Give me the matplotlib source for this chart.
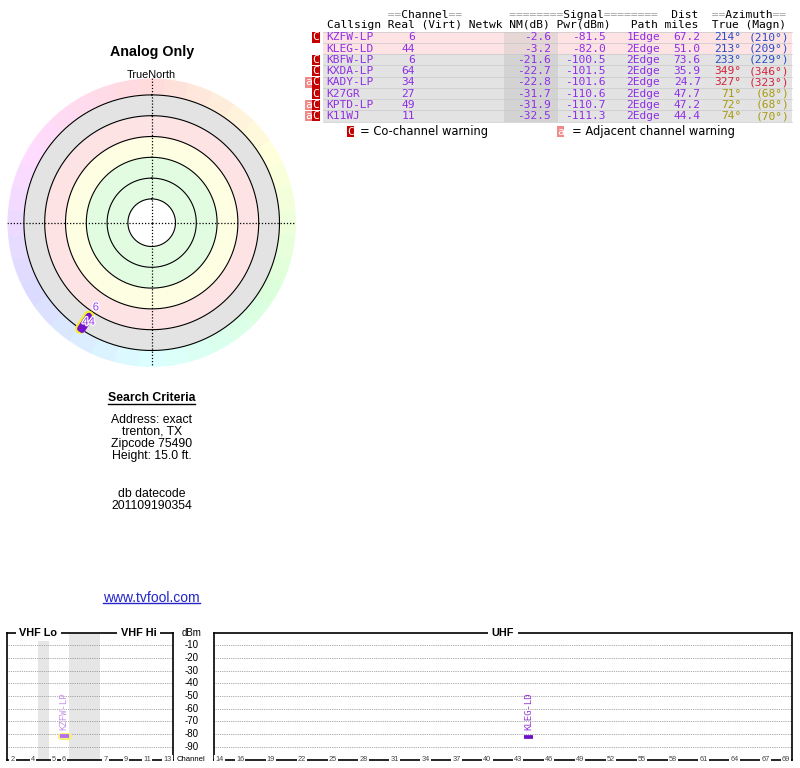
import colorsys
import numpy as np
import matplotlib
matplotlib.use('Agg')
import matplotlib.pyplot as plt
import matplotlib.patheffects as pe
from matplotlib.patches import Rectangle
from matplotlib.transforms import blended_transform_factory

# ---------------------------------------------------------------
# station data (tvfool report, Analog Only)
# ---------------------------------------------------------------
callsigns = ['KZFW-LP', 'KLEG-LD', 'KBFW-LP', 'KXDA-LP', 'KADY-LP', 'K27GR', 'KPTD-LP', 'K11WJ']
real_ch = [6, 44, 6, 64, 34, 27, 49, 11]
nm_db = [-2.6, -3.2, -21.6, -22.7, -22.8, -31.7, -31.9, -32.5]
pwr_dbm = [-81.5, -82.0, -100.5, -101.5, -101.6, -110.6, -110.7, -111.3]
path = ['1Edge', '2Edge', '2Edge', '2Edge', '2Edge', '2Edge', '2Edge', '2Edge']
dist_mi = [67.2, 51.0, 73.6, 35.9, 24.7, 47.7, 47.2, 44.4]
az_true = [214, 213, 233, 349, 327, 71, 72, 74]
az_magn = [210, 209, 229, 346, 323, 68, 68, 70]
co_channel = [True, False, True, True, True, True, True, True]
adj_channel = [False, False, False, False, True, False, True, True]

ring_nm = [40, 30, 20, 10, 0, -10]
band_nm = [40, 20, 10, 0, -10]
vhf_slots = ['2', '3', '4', '', '5', '6', '', '', '', '7', '8', '9', '10', '11', '12', '13']
vhf_tick_labels = ['2', '4', '5', '6', '7', '9', '11', '13']
uhf_tick_labels = [14, 16, 19, 22, 25, 28, 31, 34, 37, 40, 43, 46, 49, 52, 55, 58, 61, 64, 67, 69]
dbm_ticks = [-10, -20, -30, -40, -50, -60, -70, -80, -90]
criteria_lines = ['Address: exact', 'trenton, TX', 'Zipcode 75490', 'Height: 15.0 ft.']
datecode_lines = ['db datecode', '201109190354']

MONO = 'DejaVu Sans Mono'
SANS = 'Liberation Sans'
PURPLE = '#8f2fe6'

W, H = 800, 768
fig = plt.figure(figsize=(8, 7.68), dpi=100)
bg = fig.add_axes([0, 0, 1, 1])
bg.set_xlim(0, W)
bg.set_ylim(H, 0)
bg.axis('off')


def px_rect(x0, y0, x1, y1):
    return [x0 / W, 1 - y1 / H, (x1 - x0) / W, (y1 - y0) / H]


def az_color(a):
    if 180 <= a < 300:
        return '#2a4fc4'
    if a >= 300 or a < 30:
        return '#d0243c'
    return '#a89a10'


is_analog = [not c.endswith('-LD') for c in callsigns]

# ---------------------------------------------------------------
# station table (monospace columns)
# ---------------------------------------------------------------
tx0, cw = 326.7, 6.8
row_top, row_h = 31.7, 11.25
tab_x0, tab_x1 = 323.3, 792.3
nm_x0, nm_x1 = 504.3, 557.7


def col_x(i):
    return tx0 + i * cw


hdr1 = '         ==Channel==       ========Signal========  Dist  ==Azimuth=='
hdr2 = 'Callsign Real (Virt) Netwk NM(dB) Pwr(dBm)   Path miles  True (Magn)'
mono = dict(family=MONO, fontsize=8.1)
bg.text(col_x(0), 15, ''.join(c if c == '=' else ' ' for c in hdr1), color='#a0a0a0',
        ha='left', va='center', **mono)
bg.text(col_x(0), 15, ''.join(' ' if c == '=' else c for c in hdr1), color='black',
        ha='left', va='center', **mono)
bg.text(col_x(0), 25, hdr2, color='black', ha='left', va='center', **mono)

n = len(callsigns)
for i in range(n):
    top = row_top + i * row_h
    yc = top + row_h / 2
    strong = nm_db[i] > -10
    bg.add_patch(Rectangle((tab_x0, top), tab_x1 - tab_x0, row_h,
                           fc='#fde3e3' if strong else '#e3e3e3', ec='none'))
    bg.add_patch(Rectangle((nm_x0, top), nm_x1 - nm_x0, row_h,
                           fc='#e6d6d6' if strong else '#d3d3d3', ec='none'))
    if co_channel[i]:
        bg.add_patch(Rectangle((311.7, top + 0.4), 8.3, row_h - 0.8, fc='#c40000', ec='none'))
        bg.text(315.8, yc, 'C', color='white', ha='center', va='center', **mono)
    if adj_channel[i]:
        bg.add_patch(Rectangle((305.0, top + 0.4), 6.7, row_h - 0.8, fc='#f08a8a', ec='none'))
        bg.text(308.4, yc, 'a', color='white', ha='center', va='center', **mono)

    bg.text(col_x(0), yc, callsigns[i], color=PURPLE, ha='left', va='center', **mono)
    bg.text(col_x(13), yc, str(real_ch[i]), color=PURPLE, ha='right', va='center', **mono)
    bg.text(col_x(33), yc, f'{nm_db[i]:.1f}', color=PURPLE, ha='right', va='center', **mono)
    bg.text(col_x(41), yc, f'{pwr_dbm[i]:.1f}', color=PURPLE, ha='right', va='center', **mono)
    bg.text(col_x(49), yc, path[i], color=PURPLE, ha='right', va='center', **mono)
    bg.text(col_x(55), yc, f'{dist_mi[i]:.1f}', color=PURPLE, ha='right', va='center', **mono)
    acol = az_color(az_true[i])
    bg.text(col_x(61), yc, f'{az_true[i]}°', color=acol, ha='right', va='center', **mono)
    bg.text(col_x(68), yc, f'({az_magn[i]}°)', color=acol, ha='right', va='center', **mono)

for i in range(n + 1):
    bg.plot([tab_x0, tab_x1], [row_top + i * row_h] * 2, color='#c8c8c8', lw=0.5)

# legend under the table
ly = row_top + n * row_h + 10
bg.add_patch(Rectangle((346.7, ly - 5.6), 7.6, 11.2, fc='#c40000', ec='none'))
bg.text(350.5, ly, 'C', color='white', ha='center', va='center', **mono)
bg.text(360, ly, '= Co-channel warning', ha='left', va='center', fontsize=8.3, color='black')
bg.add_patch(Rectangle((557.3, ly - 5.6), 7.0, 11.2, fc='#f08a8a', ec='none'))
bg.text(560.8, ly, 'a', color='white', ha='center', va='center', **mono)
bg.text(571.7, ly, '= Adjacent channel warning', ha='left', va='center', fontsize=8.3, color='black')

# ---------------------------------------------------------------
# radar plot
# ---------------------------------------------------------------
cx, cy, R = 151.7, 222.7, 144.3


def nm_to_r(v):
    return 107.0 - 2.08 * np.asarray(v, dtype=float)


pax = fig.add_axes(px_rect(cx - R, cy - R, cx + R, cy + R), projection='polar')
pax.set_theta_zero_location('N')
pax.set_theta_direction(-1)
pax.set_rlim(0, R)
pax.axis('off')

theta = np.linspace(0, 2 * np.pi, 721)
ring_r = nm_to_r(ring_nm)
band_r = nm_to_r(band_nm)
band_colors = ['#e2fce2', '#fefee2', '#fde3e3', '#e3e3e3']
for k, col in enumerate(band_colors):
    pax.fill_between(theta, band_r[k], band_r[k + 1], color=col, lw=0)
# hue wheel by azimuth
for a in range(0, 360, 10):
    col = colorsys.hsv_to_rgb(a / 360.0, 0.14, 1.0)
    pax.bar(np.deg2rad(a), R - ring_r[-1], width=np.deg2rad(10), bottom=ring_r[-1],
            color=col, ec=col, lw=0.3)
for r in ring_r:
    pax.plot(theta, np.full_like(theta, r), color='black', lw=0.8)
for a in (0, 90, 180, 270):
    pax.plot([np.deg2rad(a)] * 2, [0, R], color='black', lw=0.9, ls=(0, (1, 1.5)))

label_az = []
for i in range(n):
    if nm_db[i] <= ring_nm[-1]:
        continue
    th = np.deg2rad(az_true[i])
    r_tip = nm_to_r(nm_db[i])
    if is_analog[i]:
        pax.plot([th, th], [r_tip, ring_r[-1]], color='#f4ee2a', lw=7.5, solid_capstyle='round')
    pax.plot([th, th], [r_tip, ring_r[-1]], color='#7412d0', lw=4.5, solid_capstyle='round')
    k = sum(abs(a - az_true[i]) < 5 for a in label_az)
    label_az.append(az_true[i])
    pax.text(np.deg2rad(az_true[i] - 0.6), r_tip - 11 + 15 * k, str(real_ch[i]),
             color='#9a44f2', fontsize=8.2, family=SANS, ha='center', va='center',
             path_effects=[pe.withStroke(linewidth=1.8, foreground='white')])

bg.text(163, 89.5, 'N', color='#dd0000', fontsize=8, family=SANS, ha='center', va='center',
        bbox=dict(boxstyle='square,pad=0.12', fc='white', ec='none', alpha=0.85))
bg.text(cx, 74.5, 'TrueNorth', fontsize=7.8, family=SANS, ha='center', va='center')
bg.text(cx, 51.7, 'Analog Only', fontsize=10.3, family=SANS, weight='bold',
        ha='center', va='center')

# ---------------------------------------------------------------
# search criteria text
# ---------------------------------------------------------------
t_sc = bg.text(cx, 398.3, 'Search Criteria', fontsize=8.8, family=SANS, weight='bold',
               ha='center', va='center')
for j, line in enumerate(criteria_lines):
    bg.text(cx, 420 + 12 * j, line, fontsize=8.8, family=SANS, ha='center', va='center')
for j, line in enumerate(datecode_lines):
    bg.text(cx, 494 + 12 * j, line, fontsize=8.8, family=SANS, ha='center', va='center')
t_url = bg.text(cx, 598.3, 'www.tvfool.com', fontsize=10, family=SANS, color='#2424c8',
                ha='center', va='center')

# ---------------------------------------------------------------
# spectrum panels
# ---------------------------------------------------------------
s_top, s_bot = 632.7, 759.5
vax = fig.add_axes(px_rect(7.3, s_top, 172.7, s_bot))
uax = fig.add_axes(px_rect(214.3, s_top, 792.3, s_bot))
vax.set_xlim(-0.5, len(vhf_slots) - 0.5)
uax.set_xlim(13.5, 69.6)
for ax in (vax, uax):
    ax.set_ylim(-100, 0)
    ax.set_yticks(dbm_ticks)
    ax.set_xticks([])
    ax.tick_params(left=False, labelleft=False)
    ax.yaxis.grid(True, ls=(0, (1, 1.2)), color='#8c8c8c', lw=0.6)
    for sp in ax.spines.values():
        sp.set_linewidth(1.2)
        sp.set_color('black')

for s, lab in enumerate(vhf_slots):
    if lab == '':
        vax.axvspan(s - 0.5, s + 0.5, color='#e6e6e6', lw=0, zorder=0.5)

tick_kw = dict(fontsize=5.3, family=SANS, color='#444444', ha='center', va='center',
               clip_on=False, zorder=5,
               bbox=dict(boxstyle='square,pad=0.15', fc='white', ec='none'))
for lab in vhf_tick_labels:
    vax.text(vhf_slots.index(lab), -100, lab, **tick_kw)
for ch in uhf_tick_labels:
    uax.text(ch, -100, str(ch), **tick_kw)

band_kw = dict(fontsize=7.8, family=SANS, weight='bold', ha='center', va='center', clip_on=False,
               zorder=5, bbox=dict(boxstyle='square,pad=0.35', fc='white', ec='none'))
vax.text(2.5, 0, 'VHF Lo', **band_kw)
vax.text(12.2, 0, 'VHF Hi', **band_kw)
uax.text(41.5, 0, 'UHF', **band_kw)

side = blended_transform_factory(vax.transAxes, vax.transData)
side_x = (191.7 - 7.3) / (172.7 - 7.3)
vax.text(side_x, 0, 'dBm', transform=side, fontsize=7, family=SANS, ha='center', va='center',
         clip_on=False)
for v in dbm_ticks:
    vax.text(side_x, v, str(v), transform=side, fontsize=7, family=SANS, ha='center',
             va='center', clip_on=False)
vax.text(side_x - 0.007, -100, 'Channel', transform=side, fontsize=5.6, family=SANS,
         ha='center', va='center', clip_on=False)

for i in range(n):
    if pwr_dbm[i] < -100:
        continue
    if real_ch[i] <= 13:
        ax, x = vax, vhf_slots.index(str(real_ch[i]))
    else:
        ax, x = uax, real_ch[i]
    if is_analog[i]:
        ax.plot([x - 0.33, x + 0.33], [pwr_dbm[i]] * 2, color='#f4f07a', lw=5.2,
                solid_capstyle='round', zorder=3)
        bar_c, lab_c = '#b46cf0', '#c690ea'
    else:
        bar_c, lab_c = '#7010c8', '#9434d8'
    ax.plot([x - 0.45, x + 0.45], [pwr_dbm[i]] * 2, color=bar_c, lw=2.7,
            solid_capstyle='butt', zorder=4)
    ax.text(x, pwr_dbm[i] + 5, callsigns[i], rotation=90, ha='center', va='bottom',
            family=MONO, fontsize=6.5, color=lab_c, zorder=4)

# underlines for the two headings
fig.canvas.draw()
for t, dy in ((t_sc, 5.8), (t_url, 4.6)):
    bb = t.get_window_extent()
    y = t.get_position()[1] + dy
    bg.plot([bb.x0, bb.x1], [y, y], color=t.get_color(), lw=1.0)

fig.savefig('out.png', dpi=100)
